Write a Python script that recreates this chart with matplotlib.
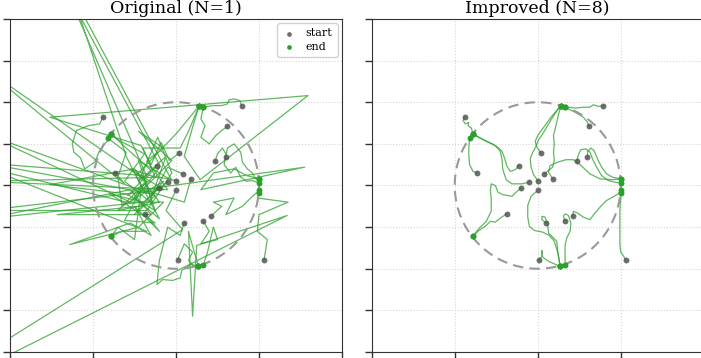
import numpy as np
import matplotlib
matplotlib.use("Agg")
from matplotlib import pyplot as plt

# agent start / goal positions (same for both runs)
start_x = [-0.88, 0.79, 0.62, 0.04, -0.23, -0.73, 0.47, 0.60, 0.08, 0.18,
           0.00, -0.10, -0.20, 0.00, -0.37, 0.10, 0.33, 0.42, 0.02, 1.06]
start_y = [0.82, 0.96, 0.71, 0.39, 0.24, 0.15, 0.29, 0.34, 0.14, 0.08,
           0.06, 0.04, -0.03, -0.06, -0.34, -0.45, -0.43, -0.37, -0.89, -0.90]
end_x = [-0.78, 0.33, 0.33, 0.28, -0.78, -0.82, 1.00, 1.00, 0.28, 1.00,
         0.28, -0.78, -0.78, 0.27, -0.78, 0.27, 0.33, 1.00, 0.27, 1.00]
end_y = [0.62, 0.94, 0.94, 0.96, 0.62, 0.57, 0.03, 0.08, 0.96, 0.08,
         0.96, 0.62, -0.61, -0.97, -0.61, -0.97, -0.95, -0.06, -0.97, -0.09]

# intermediate waypoints, original run (N=1)
original_paths = [
    [(-0.92, 0.74), (-1.05, 0.72), (-1.20, 0.66), (-1.25, 0.50), (-1.23, 0.40), (-1.15, 0.33),
     (-1.10, 0.20), (-0.98, 0.28), (-0.92, 0.42), (-0.86, 0.50), (-0.80, 0.56)],
    [(0.77, 1.02), (0.70, 1.04), (0.64, 1.03), (0.62, 0.98), (0.55, 0.96), (0.45, 0.96), (0.38, 0.95)],
    [(0.55, 0.66), (0.48, 0.60), (0.40, 0.50), (0.30, 0.58), (0.35, 0.72), (0.30, 0.80)],
    [(-0.08, 0.30), (-0.18, 0.52), (-0.30, 0.25), (-0.42, 0.48), (-1.52, 0.82), (1.59, 1.08),
     (0.29, 0.07), (0.10, 0.35), (0.20, 0.70)],
    [(-0.35, 0.10), (-1.30, 2.30), (-0.19, 0.23), (-0.40, -0.05), (-0.60, 0.35), (-1.25, 2.30),
     (-0.05, 0.06), (-0.45, 0.30), (-0.28, -0.22), (-0.62, 0.05), (-0.38, 0.38), (-0.70, 0.55)],
    [(-0.62, 0.02), (-2.30, 1.40), (-0.35, 0.05), (-0.55, -0.20), (-2.30, 0.62), (-0.25, -0.12),
     (-0.50, -0.35), (-0.15, 0.05), (-0.65, -0.25), (-0.70, 0.10), (-0.60, 0.40)],
    [(0.50, 0.38), (0.56, 0.45), (0.60, 0.38), (0.58, 0.25), (0.66, 0.15), (0.72, 0.22),
     (0.78, 0.10), (0.85, 0.05), (0.92, 0.06)],
    [(0.62, 0.45), (0.70, 0.50), (0.78, 0.40), (0.80, 0.28), (0.86, 0.20), (0.92, 0.15), (0.96, 0.08)],
    [(-0.10, 0.22), (-0.30, -0.15), (-0.12, 0.35), (-0.45, 0.05), (-0.22, 0.58), (-0.05, 0.15),
     (-0.35, -0.30), (-2.30, -0.30), (-0.15, -0.05), (-0.55, 0.20), (-0.25, 0.10), (-0.40, 0.45),
     (0.05, 0.45), (0.15, 0.65)],
    [(0.10, -0.20), (-0.40, -0.05), (1.55, 0.22), (0.30, -0.05), (0.45, 0.15), (0.70, 0.20), (0.85, 0.12)],
    [(-0.20, 0.10), (-2.30, 0.05), (-0.10, -0.05), (-0.35, 0.30), (-0.15, 0.45), (-0.45, 0.65),
     (-0.05, 0.30), (-0.50, -0.15), (-0.20, -0.40), (-0.48, 0.12), (0.00, 0.62), (0.15, 0.80)],
    [(-0.30, -0.10), (-2.30, 0.27), (-0.40, 0.12), (-0.25, -0.30), (-0.60, -0.10), (-1.52, 0.01),
     (-0.50, 0.20), (-0.20, -0.20), (-0.70, -0.30), (-0.35, 0.05), (-0.58, -0.12), (-0.30, 0.18),
     (-0.60, 0.45)],
    [(-0.45, -0.25), (-1.43, -0.35), (-0.30, -0.35), (-0.55, -0.05), (-2.30, -0.40), (-0.40, -0.20),
     (-0.80, -0.10), (-0.25, -0.45), (-0.62, -0.42), (-0.42, -0.05), (-0.50, -0.65), (-0.70, -0.50)],
    [(-0.12, -0.30), (0.08, -0.53), (-3.60, -2.83), (1.34, -0.36), (0.25, -0.72), (0.20, -1.57),
     (0.15, -0.55), (0.22, -0.80)],
    [(-0.20, -0.55), (-0.50, -0.25), (-0.30, -0.60), (-0.55, -0.45), (-1.28, -0.71), (-0.45, -0.50),
     (-0.15, -0.20), (-0.60, -0.20), (-2.30, 0.22), (-0.35, -0.55), (-0.65, -0.55)],
    [(0.05, -0.60), (-0.10, -0.50), (-0.20, -0.90), (-0.23, -1.19), (-0.16, -1.13), (-0.04, -1.14),
     (0.05, -1.11), (0.07, -1.02), (0.18, -0.95)],
    [(0.40, -0.55), (0.30, -0.70), (0.50, -0.65), (0.45, -0.50), (0.38, -0.80)],
    [(0.55, -0.25), (0.45, -0.20), (0.70, -0.15), (0.60, -0.35), (0.80, -0.25), (0.90, -0.15)],
    [(0.10, -0.70), (0.20, -0.80), (0.15, -0.90), (0.22, -0.97)],
    [(1.10, -0.65), (0.98, -0.55), (1.00, -0.35), (1.35, -0.20), (0.98, -0.15)],
]

# intermediate waypoints, improved run (N=8)
improved_paths = [
    [(-0.90, 0.78), (-0.87, 0.74), (-0.83, 0.76), (-0.84, 0.72), (-0.80, 0.69)],
    [(0.73, 0.95), (0.67, 0.97), (0.63, 0.94), (0.55, 0.94), (0.46, 0.93), (0.38, 0.94)],
    [(0.60, 0.76), (0.55, 0.82), (0.47, 0.87), (0.39, 0.91)],
    [(-0.01, 0.46), (-0.03, 0.53), (0.00, 0.60), (0.05, 0.67), (0.11, 0.75), (0.16, 0.82), (0.22, 0.89)],
    [(-0.27, 0.19), (-0.33, 0.17), (-0.37, 0.23), (-0.40, 0.33), (-0.43, 0.41), (-0.47, 0.45),
     (-0.55, 0.50), (-0.66, 0.55)],
    [(-0.78, 0.17), (-0.82, 0.25), (-0.83, 0.37), (-0.83, 0.47)],
    [(0.49, 0.37), (0.52, 0.43), (0.58, 0.44), (0.63, 0.40), (0.66, 0.32), (0.71, 0.22),
     (0.77, 0.12), (0.85, 0.06), (0.93, 0.04)],
    [(0.60, 0.41), (0.64, 0.45), (0.68, 0.42), (0.72, 0.32), (0.77, 0.22), (0.83, 0.14), (0.90, 0.10)],
    [(0.13, 0.18), (0.18, 0.22), (0.20, 0.30), (0.19, 0.40), (0.20, 0.50), (0.19, 0.60),
     (0.22, 0.72), (0.25, 0.85)],
    [(0.13, 0.16), (0.15, 0.24), (0.24, 0.28), (0.34, 0.31), (0.43, 0.31), (0.51, 0.25),
     (0.63, 0.14), (0.75, 0.08), (0.90, 0.07)],
    [(-0.05, 0.13), (-0.08, 0.22), (-0.09, 0.32), (-0.06, 0.40), (-0.02, 0.47), (0.01, 0.55),
     (0.06, 0.62), (0.12, 0.72), (0.18, 0.82), (0.24, 0.91)],
    [(-0.19, 0.02), (-0.31, 0.02), (-0.38, 0.07), (-0.42, 0.19), (-0.43, 0.31), (-0.45, 0.41),
     (-0.51, 0.48), (-0.61, 0.53), (-0.71, 0.58)],
    [(-0.26, -0.08), (-0.31, -0.13), (-0.42, -0.11), (-0.48, -0.08), (-0.51, 0.00), (-0.56, 0.02),
     (-0.57, -0.05), (-0.56, -0.17), (-0.56, -0.31), (-0.62, -0.43), (-0.72, -0.53)],
    [(-0.08, -0.13), (-0.12, -0.24), (-0.12, -0.38), (-0.10, -0.49), (-0.04, -0.54), (0.06, -0.56),
     (0.14, -0.60), (0.20, -0.67), (0.24, -0.80)],
    [(-0.45, -0.39), (-0.51, -0.44), (-0.57, -0.43), (-0.62, -0.48), (-0.72, -0.55)],
    [(0.05, -0.41), (0.05, -0.37), (0.09, -0.38), (0.12, -0.47), (0.13, -0.57), (0.18, -0.62),
     (0.23, -0.67), (0.24, -0.78), (0.26, -0.90)],
    [(0.31, -0.37), (0.33, -0.34), (0.37, -0.36), (0.40, -0.45), (0.39, -0.55), (0.35, -0.63),
     (0.33, -0.72), (0.33, -0.85)],
    [(0.43, -0.31), (0.48, -0.33), (0.55, -0.38), (0.63, -0.41), (0.69, -0.33), (0.76, -0.25),
     (0.83, -0.18), (0.92, -0.13), (0.97, -0.10)],
    [(0.05, -0.85), (0.05, -0.78), (0.06, -0.86), (0.13, -0.91), (0.22, -0.95)],
    [(1.03, -0.84), (1.00, -0.80), (0.99, -0.70), (0.99, -0.50), (0.99, -0.30), (1.00, -0.15)],
]

titles = ["Original (N=1)", "Improved (N=8)"]

W, H = 701, 358
fig = plt.figure(figsize=(W / 100, H / 100), dpi=100)
ax1 = fig.add_axes([10 / W, 6 / H, 332 / W, 333 / H])
ax2 = fig.add_axes([371.7 / W, 6 / H, 332 / W, 333 / H])

green = "#2ca02c"
theta = np.linspace(0, 2 * np.pi, 200)

for ax, paths, title in [(ax1, original_paths, titles[0]), (ax2, improved_paths, titles[1])]:
    for i, mid in enumerate(paths):
        pts = [(start_x[i], start_y[i])] + mid + [(end_x[i], end_y[i])]
        xs, ys = zip(*pts)
        ax.plot(xs, ys, color=green, lw=0.9, alpha=0.75, zorder=2)
    ax.plot(np.cos(theta), np.sin(theta), ls=(0, (5, 3)), color="#999999", lw=1.5, zorder=3)
    ax.scatter(start_x, start_y, s=18, color="#555555", alpha=0.85, zorder=4, label="start", linewidths=0)
    ax.scatter(end_x, end_y, s=18, color=green, zorder=5, label="end", linewidths=0)
    ax.set_xlim(-2, 2)
    ax.set_ylim(-2, 2)
    ax.set_xticks([-2, -1, 0, 1, 2])
    ax.set_yticks([-2, -1.5, -1, -0.5, 0, 0.5, 1, 1.5, 2])
    ax.tick_params(labelleft=False, labelbottom=False, length=5, color="#333333", width=1)
    ax.grid(True, ls=":", color="#d5d5d5", lw=0.8)
    for sp in ax.spines.values():
        sp.set_color("#333333")
    ax.set_title(title, family="DejaVu Serif", fontsize=12.5, pad=4)

ax1.legend(loc="upper right", prop={"family": "DejaVu Serif", "size": 8},
           markerscale=0.8, handlelength=1.2, handletextpad=0.9, borderpad=0.45,
           labelspacing=0.35, borderaxespad=0.4, framealpha=0.9)

fig.savefig("out.png", dpi=100)
